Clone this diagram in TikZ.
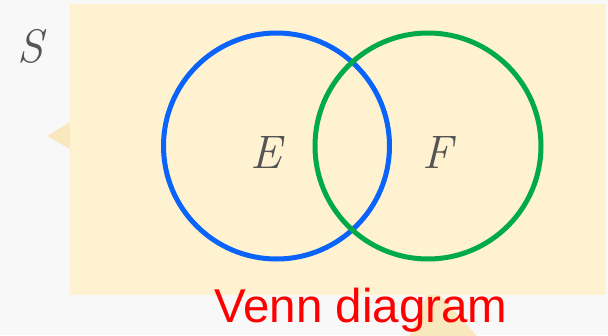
\documentclass[tikz,border=0pt]{standalone}
\usepackage{fontspec}
\newfontfamily\arialish{Liberation Sans}
\definecolor{bgc}{HTML}{F8F8F8}
\definecolor{cream}{HTML}{FFF2D1}
\definecolor{tailc}{HTML}{F9E8BE}
\definecolor{bluec}{HTML}{0A64FA}
\definecolor{greenc}{HTML}{00AA48}
\definecolor{labc}{HTML}{555555}
\tikzset{
  setlabel/.style={text=labc, font=\itshape\fontsize{47}{50}\selectfont, anchor=base, inner sep=0pt},
  venn/.style={circle, line width=5pt, minimum size=226pt, inner sep=0pt},
}
\begin{document}
\begin{tikzpicture}[x=1pt,y=-1pt]
\fill[bgc] (0,0) rectangle (608,335);
\useasboundingbox (0,0) rectangle (608,335);
\fill[tailc] (70,122) -- (47,136) -- (70,149) -- cycle;
\fill[tailc] (431,285) -- (406,345) -- (485,345) -- cycle;
\fill[cream] (70,4) rectangle (606,295);
\node[setlabel] (S) at (30,62) {S};
\node[venn, draw=bluec] (Ec) at (276.5,146) {};
\node[venn, draw=greenc] (Fc) at (428,146) {};
\node[setlabel] (E) at (266,168) {E};
\node[setlabel] (F) at (437,168) {F};
\node[text=red, font=\arialish\fontsize{47.5}{50}\selectfont, anchor=base, inner sep=0pt] (title) at (361,322) {Venn diagram};
\end{tikzpicture}
\end{document}
